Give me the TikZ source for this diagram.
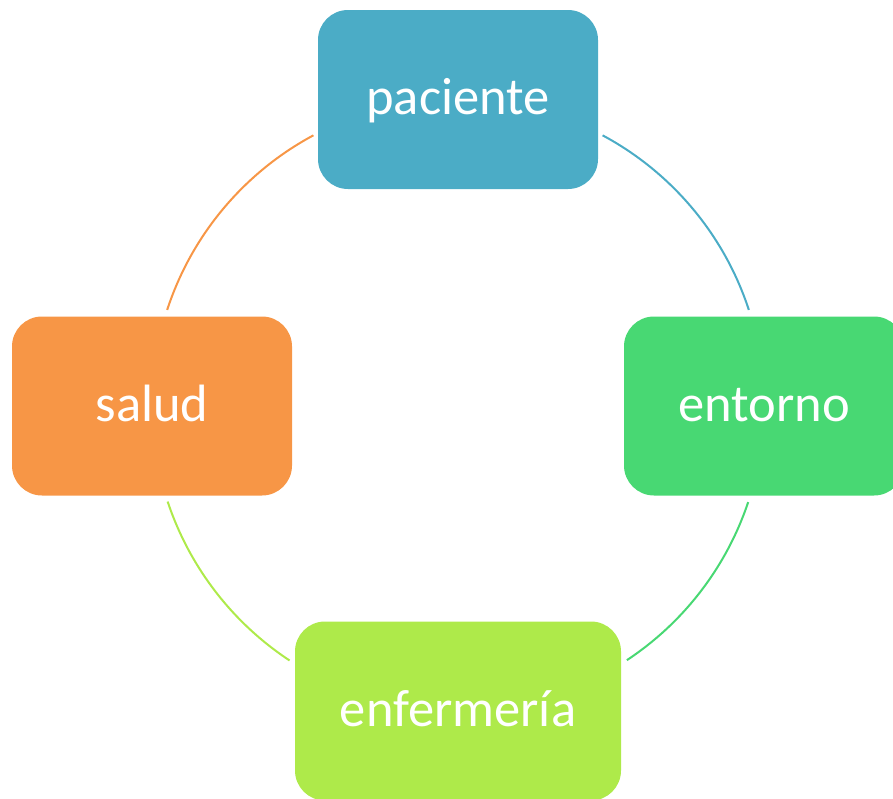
\documentclass[tikz,border=0pt]{standalone}
\usepackage{fontspec}
\setmainfont{Carlito}
\definecolor{cpac}{HTML}{4BACC6}
\definecolor{cent}{HTML}{48D873}
\definecolor{cenf}{HTML}{AEEA4A}
\definecolor{csal}{HTML}{F79646}
\begin{document}
\begin{tikzpicture}[x=1pt,y=-1pt,
  box/.style={rounded corners=30pt, minimum height=179pt, inner sep=0pt,
    text=white, font=\fontsize{52.5}{60}\selectfont, text height=30pt, text depth=0pt},
  link/.style={line width=2pt}]
\useasboundingbox (0,0) rectangle (893,798);
\begin{scope}
\clip (0,0) rectangle (893,798);
\node[box, fill=cpac, minimum width=280pt] (pac) at (458,99.5) {paciente};
\node[box, fill=cent, minimum width=280pt] (ent) at (764,406) {entorno};
\node[box, fill=csal, minimum width=280pt] (sal) at (152,406) {salud};
\node[box, fill=cenf, minimum width=326pt] (enf) at (458,711) {enfermería};
\end{scope}
\coordinate (c) at (458,405);
\coordinate (p1) at ([shift={(-61.8:306)}]c);
\coordinate (e1) at ([shift={(18.5:306)}]c);
\coordinate (f1) at ([shift={(123.4:306)}]c);
\coordinate (s1) at ([shift={(-161.9:306)}]c);
\draw[link, cpac] (p1) arc[start angle=-61.8, end angle=-18.1, radius=306];
\draw[link, cent] (e1) arc[start angle=18.5, end angle=56.5, radius=306];
\draw[link, cenf] (f1) arc[start angle=123.4, end angle=161.6, radius=306];
\draw[link, csal] (s1) arc[start angle=-161.9, end angle=-118.2, radius=306];
\end{tikzpicture}
\end{document}
